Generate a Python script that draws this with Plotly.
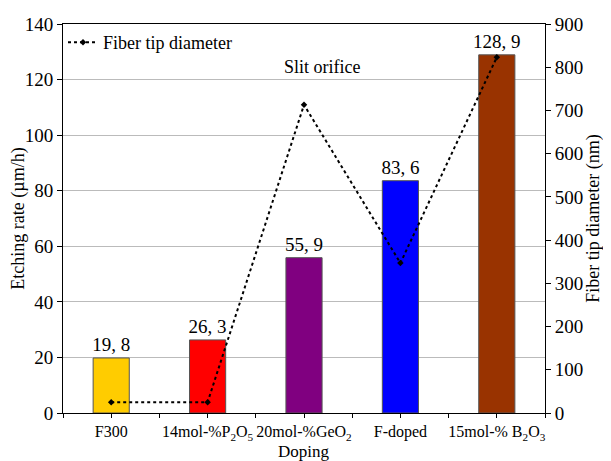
import plotly.graph_objects as go

categories = ["F300", "14mol-%P<sub>2</sub>O<sub>5</sub>", "20mol-%GeO<sub>2</sub>", "F-doped", "15mol-% B<sub>2</sub>O<sub>3</sub>"]
etching_rate = [19.8, 26.3, 55.9, 83.6, 128.9]
bar_labels = ["19, 8", "26, 3", "55, 9", "83, 6", "128, 9"]
tip_diameter = [25, 25, 713, 347, 823]
bar_colors = ["#FFCC00", "#FF0000", "#800080", "#0000FF", "#993300"]
left_ticks = [0, 20, 40, 60, 80, 100, 120, 140]
right_ticks = [0, 100, 200, 300, 400, 500, 600, 700, 800, 900]

x = list(range(len(categories)))
FONT = "Liberation Serif, serif"

fig = go.Figure()
fig.add_trace(go.Bar(
    x=x, y=etching_rate, width=0.375,
    marker=dict(color=bar_colors, line=dict(color="#555555", width=1)),
    text=bar_labels, textposition="outside", cliponaxis=False,
    textfont=dict(family=FONT, size=19, color="black"),
    showlegend=False, yaxis="y",
))
fig.add_trace(go.Scatter(
    x=x, y=tip_diameter, mode="lines+markers", name="Fiber tip diameter",
    line=dict(color="black", width=2, dash="dot"),
    marker=dict(symbol="diamond", size=5, color="black"),
    yaxis="y2",
))

fig.update_layout(
    width=603, height=453,
    margin=dict(l=55, r=66, t=16, b=48, autoexpand=False),
    paper_bgcolor="white", plot_bgcolor="white",
    font=dict(family=FONT, size=18, color="black"),
    uniformtext=dict(minsize=19, mode="show"),
    xaxis=dict(
        range=[-0.5, 4.5], tickvals=x, ticktext=categories, tickangle=0,
        ticks="outside", ticklen=4, tickcolor="black",
        showline=True, linecolor="black", linewidth=1, mirror=True,
        showgrid=False, zeroline=False, automargin=False,
        minor=dict(tickvals=[-0.5, 0.5, 1.5, 2.5, 3.5, 4.5], ticks="outside", ticklen=4, tickcolor="black", showgrid=False),
        tickfont=dict(family=FONT, size=16),
    ),
    yaxis=dict(
        range=[0, 140], tickvals=left_ticks, automargin=False,
        ticks="outside", ticklen=5, tickcolor="black",
        showline=True, linecolor="black", linewidth=1,
        showgrid=True, gridcolor="#BBBBBB", gridwidth=1, zeroline=False,
        title=dict(text="Etching rate (µm/h)", standoff=2, font=dict(family=FONT, size=18)),
        tickfont=dict(family=FONT, size=19),
    ),
    yaxis2=dict(
        range=[0, 900], tickvals=right_ticks, overlaying="y", side="right", automargin=False,
        ticks="outside", ticklen=5, tickcolor="black",
        showline=True, linecolor="black", linewidth=1,
        showgrid=False, zeroline=False,
        title=dict(text="Fiber tip diameter (nm)", standoff=0, font=dict(family=FONT, size=18)),
        tickfont=dict(family=FONT, size=19),
    ),
    legend=dict(x=0.0, y=1.0, xanchor="left", yanchor="top", bgcolor="rgba(0,0,0,0)",
                font=dict(family=FONT, size=18)),
    annotations=[
        dict(text="Slit orifice", x=0.537, y=0.92, xref="paper", yref="paper",
             showarrow=False, font=dict(family=FONT, size=18)),
        dict(text="Doping", x=0.5, y=-0.07, xref="paper", yref="paper", yanchor="top",
             showarrow=False, font=dict(family=FONT, size=17)),
    ],
)

fig.write_html("out.html")
